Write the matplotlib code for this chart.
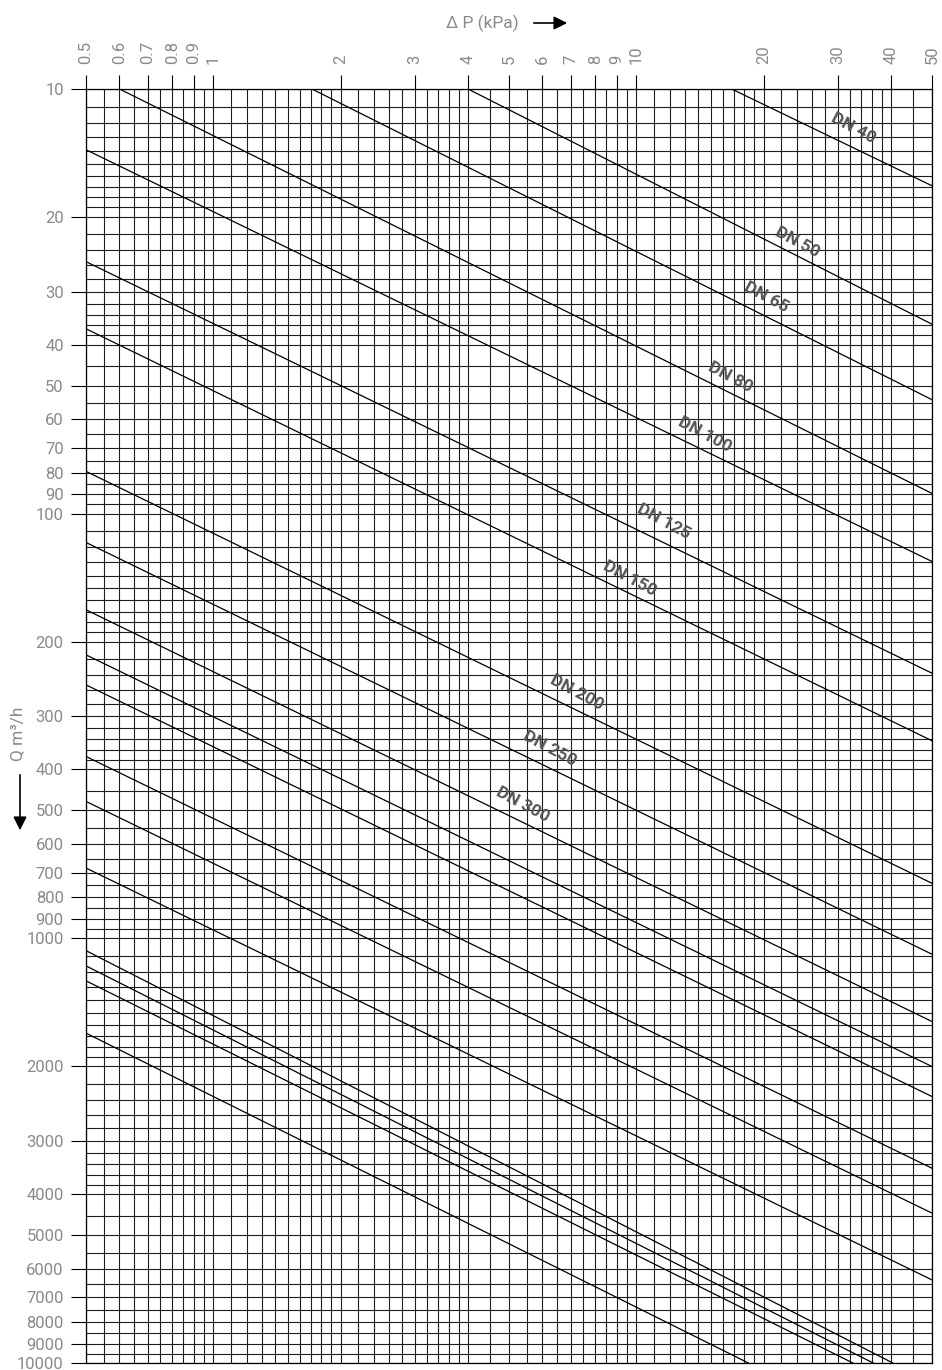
import numpy as np
import matplotlib
matplotlib.use('Agg')
import matplotlib.pyplot as plt
from matplotlib.ticker import NullLocator

plt.rcParams['font.family'] = ['Roboto', 'DejaVu Sans']

# axis ticks
dp_ticks = [0.5, 0.6, 0.7, 0.8, 0.9, 1, 2, 3, 4, 5, 6, 7, 8, 9, 10, 20, 30, 40, 50]
dp_labels = ['0.5', '0.6', '0.7', '0.8', '0.9', '1', '2', '3', '4', '5', '6', '7', '8', '9',
             '10', '20', '30', '40', '50']
q_ticks = [10, 20, 30, 40, 50, 60, 70, 80, 90, 100,
           200, 300, 400, 500, 600, 700, 800, 900, 1000,
           2000, 3000, 4000, 5000, 6000, 7000, 8000, 9000, 10000]
q_labels = [str(v) for v in q_ticks]

# valve lines: start / end points (dP in kPa, Q in m3/h)
dp_start = [16.8, 4.0, 1.71, 0.6, 0.5, 0.5, 0.5, 0.5, 0.5, 0.5,
            0.5, 0.5, 0.5, 0.5, 0.5, 0.5, 0.5, 0.5, 0.5]
q_start = [10, 10, 10, 10, 13.9, 25.5, 36.7, 79.5, 116.9, 168.4,
           215, 253, 373, 476, 683, 1069, 1161, 1259, 1672]
dp_end = [50, 50, 50, 50, 50, 50, 50, 50, 50, 50,
          50, 50, 50, 50, 50, 40.4, 36.3, 32.5, 18.4]
q_end = [16.9, 35.8, 53.9, 89.6, 129.6, 237.5, 342.6, 742, 1090, 1570,
         2004, 2358, 3478, 4437, 6373, 10000, 10000, 10000, 10000]

# DN labels
dn_names = ['DN 40', 'DN 50', 'DN 65', 'DN 80', 'DN 100', 'DN 125', 'DN 150',
            'DN 200', 'DN 250', 'DN 300']
dn_dp = [32.5, 24.0, 20.3, 16.7, 14.5, 11.6, 9.66, 7.23, 6.25, 5.39]
dn_q = [12.4, 23.0, 31.0, 47.8, 65.0, 104.5, 142.5, 264, 358, 484]

# background grid positions
grid_dp = np.concatenate([np.arange(0.5, 0.99, 0.05), np.arange(1, 1.99, 0.1),
                          np.arange(2, 3.99, 0.2), np.arange(4, 9.99, 0.5),
                          np.arange(10, 19.9, 1), np.arange(20, 39.9, 2),
                          np.arange(40, 50.1, 5)])
grid_q = np.concatenate([np.concatenate([np.arange(1, 1.99, 0.1), np.arange(2, 3.99, 0.2),
                                         np.arange(4, 9.99, 0.5)]) * b for b in (10, 100, 1000)]
                        + [np.array([10000.0])])

W, H = 942, 1370
fig = plt.figure(figsize=(W / 100, H / 100), dpi=100)
ax = fig.add_axes([86 / W, 1 - 1363 / H, 846 / W, 1274 / H])

ax.set_xscale('log')
ax.set_yscale('log')
ax.set_xlim(0.5, 50)
ax.set_ylim(10000, 10)

ax.vlines(grid_dp, 10, 10000, color='#1e1e1e', lw=0.8, zorder=1)
ax.hlines(grid_q, 0.5, 50, color='#1e1e1e', lw=0.8, zorder=1)

for x0, y0, x1, y1 in zip(dp_start, q_start, dp_end, q_end):
    ax.plot([x0, x1], [y0, y1], color='black', lw=0.9, zorder=2)

for name, x, y in zip(dn_names, dn_dp, dn_q):
    ax.text(x, y, name, rotation=-28, rotation_mode='anchor', ha='center', va='center',
            fontsize=12.5, fontweight='bold', color='#555555', zorder=3)

# ticks
ax.xaxis.tick_top()
ax.set_xticks(dp_ticks)
ax.set_xticklabels(dp_labels)
ax.set_yticks(q_ticks)
ax.set_yticklabels(q_labels)
ax.xaxis.set_minor_locator(NullLocator())
ax.yaxis.set_minor_locator(NullLocator())
ax.tick_params(axis='x', length=10, width=0.8, pad=8, labelrotation=90,
               labelsize=12, labelcolor='#8a8a8a', color='black')
ax.tick_params(axis='y', length=10.5, width=0.8, pad=5.5,
               labelsize=12, labelcolor='#8a8a8a', color='black')
for s in ax.spines.values():
    s.set_linewidth(0.9)
    s.set_color('black')

# axis titles with arrows
fig.text(482 / W, 1 - 23 / H, 'Δ P (kPa)', ha='center', va='center', fontsize=12.5, color='#8a8a8a')
ax.annotate('', xy=(570 / W, 1 - 23 / H), xytext=(531 / W, 1 - 23 / H), xycoords='figure fraction',
            textcoords='figure fraction',
            arrowprops=dict(arrowstyle='-|>', color='black', lw=1.2, mutation_scale=20))
fig.text(18 / W, 1 - 734 / H, 'Q m³/h', ha='center', va='center', rotation=90,
         fontsize=12.5, color='#8a8a8a')
ax.annotate('', xy=(20 / W, 1 - 833 / H), xytext=(20 / W, 1 - 772 / H), xycoords='figure fraction',
            textcoords='figure fraction',
            arrowprops=dict(arrowstyle='-|>', color='black', lw=1.2, mutation_scale=20))

fig.savefig('out.png', dpi=100)
